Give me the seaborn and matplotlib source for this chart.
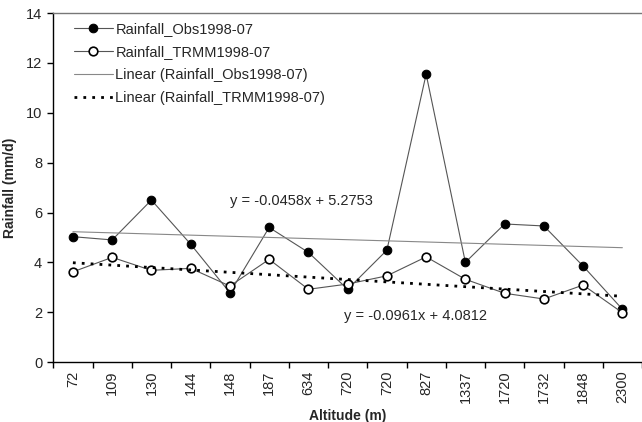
import numpy as np
import pandas as pd
import matplotlib
matplotlib.use("Agg")
import matplotlib.pyplot as plt
import seaborn as sns

# Station altitudes (m) along the x axis, in order
altitudes = ["72", "109", "130", "144", "148", "187", "634", "720", "720",
             "827", "1337", "1720", "1732", "1848", "2300"]

# Mean rainfall (mm/d), 1998-07
rain_obs = [5.03, 4.90, 6.50, 4.73, 2.78, 5.40, 4.40, 2.92, 4.49,
            11.55, 4.00, 5.54, 5.46, 3.85, 2.12]
rain_trmm = [3.62, 4.20, 3.68, 3.76, 3.05, 4.12, 2.92, 3.13, 3.46,
             4.22, 3.32, 2.76, 2.53, 3.09, 1.98]

# Linear trend coefficients (slope, intercept) against station index
trend_obs = (-0.0458, 5.2753)
trend_trmm = (-0.0961, 4.0812)

sns.set_style("ticks")
plt.rcParams["font.family"] = ["Liberation Sans", "DejaVu Sans"]

idx = np.arange(1, len(altitudes) + 1)
df = pd.DataFrame({"idx": idx, "obs": rain_obs, "trmm": rain_trmm})
df["fit_obs"] = trend_obs[0] * df["idx"] + trend_obs[1]
df["fit_trmm"] = trend_trmm[0] * df["idx"] + trend_trmm[1]

fig = plt.figure(figsize=(6.42, 4.22), dpi=100)
ax = fig.add_axes([0.083, 0.142, 0.917, 0.827])

sns.lineplot(data=df, x="idx", y="obs", ax=ax, color="#555555", lw=0.8,
             marker="o", markersize=6.2, markerfacecolor="black",
             markeredgecolor="black", label="Rainfall_Obs1998-07")
sns.lineplot(data=df, x="idx", y="trmm", ax=ax, color="#555555", lw=0.8,
             marker="o", markersize=6.2, markerfacecolor="white",
             markeredgecolor="black", markeredgewidth=1.2,
             label="Rainfall_TRMM1998-07")
sns.lineplot(data=df, x="idx", y="fit_obs", ax=ax, color="#888888", lw=0.8,
             label="Linear (Rainfall_Obs1998-07)")
sns.lineplot(data=df, x="idx", y="fit_trmm", ax=ax, color="black", lw=2.0,
             linestyle=(0, (1, 2.2)), label="Linear (Rainfall_TRMM1998-07)")

ax.text(5.0, 6.46, f"y = {trend_obs[0]}x + {trend_obs[1]}", fontsize=10.5,
        va="center", ha="left")
ax.text(7.9, 1.85, f"y = {trend_trmm[0]}x + {trend_trmm[1]}", fontsize=10.5,
        va="center", ha="left")

ax.set_xlim(0.5, 15.5)
ax.set_ylim(0, 14)
ax.set_yticks(range(0, 15, 2))
ax.set_xticks(idx)
ax.set_xticklabels(altitudes, rotation=90, fontsize=10.5)
ax.set_xticks(np.arange(0.5, 15.6, 1), minor=True)
ax.tick_params(axis="x", which="major", length=0, pad=6)
ax.tick_params(axis="x", which="minor", length=4, width=1, color="black")
ax.tick_params(axis="y", length=4, width=1, color="black", labelsize=10.5,
               pad=4)

ax.spines["left"].set_color("black")
ax.spines["bottom"].set_color("black")
ax.spines["left"].set_linewidth(1.0)
ax.spines["bottom"].set_linewidth(1.0)
ax.spines["top"].set_color("#777777")
ax.spines["top"].set_linewidth(1.0)
ax.spines["right"].set_visible(False)

ax.set_xlabel("Altitude (m)", fontsize=10, fontweight="bold", labelpad=4)
ax.set_ylabel("Rainfall (mm/d)", fontsize=10, fontweight="bold", labelpad=6)

leg = ax.legend(loc="upper left", bbox_to_anchor=(0.02, 1.0), frameon=False,
                fontsize=10.5, handlelength=2.7, labelspacing=0.62,
                handletextpad=0.15, borderaxespad=0.2)

fig.savefig("out.png", dpi=100)
